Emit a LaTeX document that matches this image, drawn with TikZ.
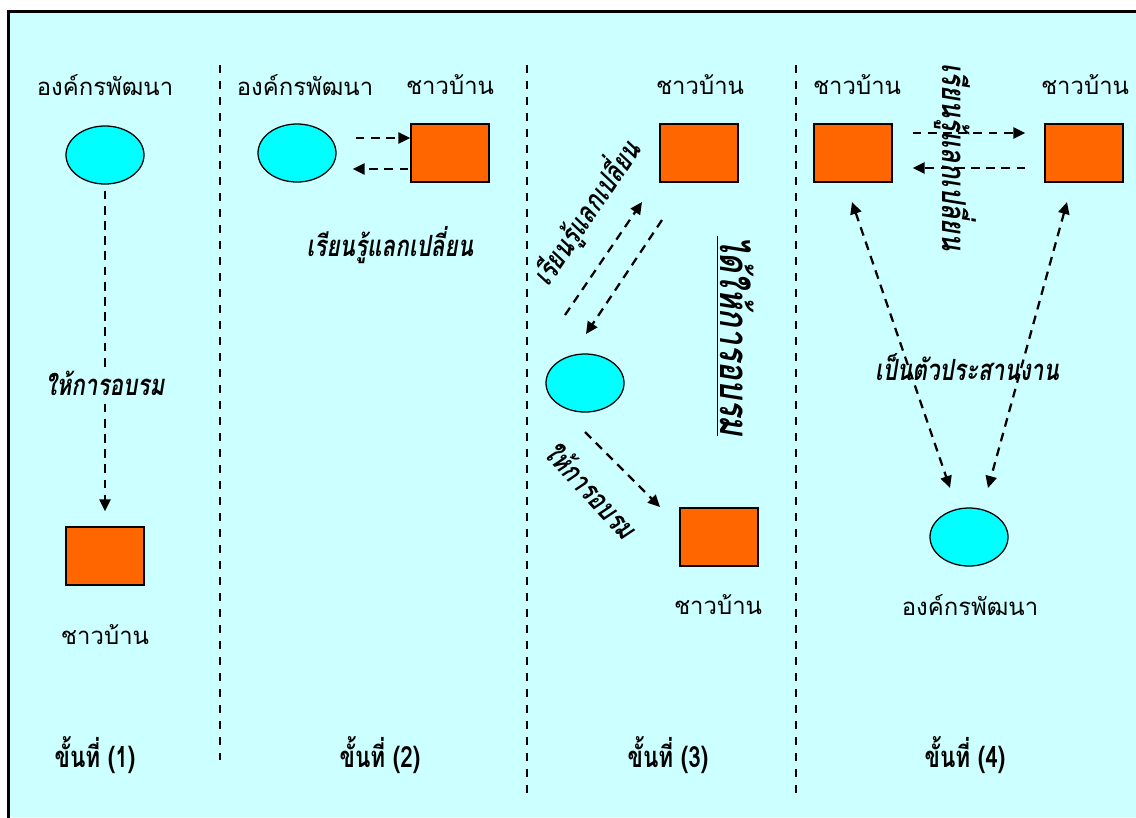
\documentclass[tikz,border=0pt]{standalone}
\usepackage{fontspec}
\newfontfamily\thaifont[Script=Thai]{Loma}
\usetikzlibrary{shapes.geometric,arrows.meta}
\definecolor{bgcyan}{HTML}{CCFFFF}
\definecolor{orgcyan}{HTML}{00FFFF}
\definecolor{villorange}{HTML}{FF6600}

\begin{document}
\begin{tikzpicture}[x=0.025cm, y=-0.025cm,
      org/.style={ellipse, draw, line width=0.9pt, fill=orgcyan, minimum width=1.95cm, minimum height=1.45cm, inner sep=0pt},
      vill/.style={rectangle, draw, line width=0.9pt, fill=villorange, minimum width=1.95cm, minimum height=1.45cm, inner sep=0pt},
      who/.style={font=\thaifont\fontsize{17}{20}\selectfont, inner sep=0pt},
      lbl/.style={font=\thaifont\bfseries\itshape\fontsize{16}{19}\selectfont, inner sep=1pt},
      tall/.style={yscale=1.3, transform shape},
      stage/.style={font=\thaifont\bfseries\fontsize{16}{19}\selectfont, tall},
      arrow/.style={-{Triangle[length=3mm,width=2.8mm]}, line width=1.6pt, dash pattern=on 2.2mm off 1.6mm},
      both/.style={{Triangle[length=3mm,width=2.8mm]}-{Triangle[length=3mm,width=2.8mm]}, line width=1.6pt, dash pattern=on 2.2mm off 1.6mm},
      sep/.style={line width=1pt, dash pattern=on 2mm off 2mm}
    ]
      \useasboundingbox (0,0) rectangle (1136,817);
      \fill[white] (0,0) rectangle (1136,817);
      \fill[bgcyan] (8,11) rectangle (1136,817);
      \draw[line width=2.4pt] (8.5,830) -- (8.5,11.5) -- (1150,11.5);

      % Separators
      \draw[sep] (220,65) -- (220,760);
      \draw[sep] (527,65) -- (527,800);
      \draw[sep] (796,65) -- (796,795);

      % Stage 1
      \node[who] (t1a) at (105,85) {องค์กรพัฒนา};
      \node[org] (e1) at (105,155) {};
      \node[vill] (r1) at (105,556) {};
      \node[who] (t1b) at (105,635) {ชาวบ้าน};
      \draw[arrow, shorten <=1.5mm, shorten >=3.75mm] (e1) -- node[lbl, tall, fill=bgcyan, pos=0.58] (l1) {ให้การอบรม} (r1);
      \node[stage] (s1) at (95,755) {ขั้นที่ (1)};

      % Stage 2
      \node[who] (t2a) at (305,85) {องค์กรพัฒนา};
      \node[who] (t2b) at (450,85) {ชาวบ้าน};
      \node[org] (e2) at (297,153) {};
      \node[vill] (r2) at (450,153) {};
      \draw[arrow, shorten <=4.75mm] ([yshift=3.75mm]e2.east) -- ([yshift=3.75mm]r2.west);
      \draw[arrow, shorten <=0.5mm, shorten >=4mm] ([yshift=-4mm]r2.west) -- ([yshift=-4mm]e2.east);
      \node[lbl, tall] (l2) at (390,245) {เรียนรู้แลกเปลี่ยน};
      \node[stage] (s2) at (380,755) {ขั้นที่ (2)};

      % Stage 3
      \node[who] (t3a) at (700,85) {ชาวบ้าน};
      \node[vill] (r3) at (699,153) {};
      \node[org] (e3) at (585,383) {};
      \node[vill] (r3b) at (719,537) {};
      \node[who] (t3b) at (718,605) {ชาวบ้าน};
      \draw[arrow] ([shift={(-20,-68)}]e3.center) -- ([shift={(-57,49)}]r3.center);
      \draw[arrow] ([shift={(-37,67)}]r3.center) -- ([shift={(1,-49)}]e3.center);
      \draw[arrow] ([shift={(0,49)}]e3.center) -- ([shift={(-59,-30)}]r3b.center);
      \node[lbl, rotate=56, tall] (l3a) at (586,212) {เรียนรู้แลกเปลี่ยน};
      \node[lbl, font=\thaifont\bfseries\itshape\fontsize{22}{25}\selectfont, rotate=-90, tall] (l3b) at (735,336) {\underline{ได้ให้การอบรม}};
      \node[lbl, rotate=-47, tall] (l3c) at (592,490) {ให้การอบรม};
      \node[stage] (s3) at (668,755) {ขั้นที่ (3)};

      % Stage 4
      \node[who] (t4a) at (857,85) {ชาวบ้าน};
      \node[who] (t4b) at (1085,85) {ชาวบ้าน};
      \node[vill] (r4a) at (853,153) {};
      \node[vill] (r4b) at (1084,153) {};
      \node[org] (e4) at (969,537) {};
      \node[who] (t4c) at (970,605) {องค์กรพัฒนา};
      \draw[arrow, shorten <=5mm, shorten >=4.75mm] ([yshift=5mm]r4a.east) -- ([yshift=5mm]r4b.west);
      \draw[arrow, shorten <=4.75mm, shorten >=5mm] ([yshift=-3.75mm]r4b.west) -- ([yshift=-3.75mm]r4a.east);
      \draw[both] ([shift={(-1,49)}]r4a.center) -- ([shift={(-19,-49)}]e4.center);
      \draw[both] ([shift={(-17,49)}]r4b.center) -- ([shift={(19,-49)}]e4.center);
      \node[lbl, font=\thaifont\bfseries\itshape\fontsize{18}{21}\selectfont, rotate=-90, tall] (l4a) at (955,157) {เรียนรู้แลกเปลี่ยน};
      \node[lbl, tall] (l4b) at (967,367) {เป็นตัวประสานงาน};
      \node[stage] (s4) at (965,755) {ขั้นที่ (4)};
    \end{tikzpicture}
\end{document}
